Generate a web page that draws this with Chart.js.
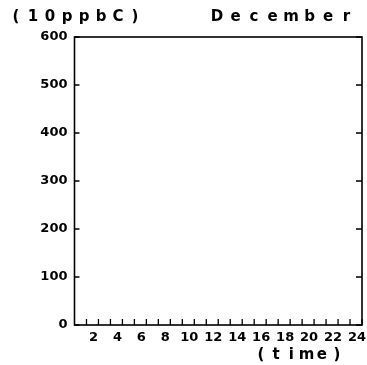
<!DOCTYPE html>
<html><head><meta charset="utf-8">
<script src="https://cdn.jsdelivr.net/npm/chart.js@4"></script>
<style>html,body{margin:0;padding:0;background:#fff}#wrap{width:367px;height:365px}</style>
</head><body><div id="wrap"><canvas id="c" width="367" height="365"></canvas></div>
<script>
// Data: the December panel contains no plotted values.
const hours = [1,2,3,4,5,6,7,8,9,10,11,12,13,14,15,16,17,18,19,20,21,22,23,24];
const concentration = [null,null,null,null,null,null,null,null,null,null,null,null,null,null,null,null,null,null,null,null,null,null,null,null];
const yTicks = [0,100,200,300,400,500,600];
const xLabelHours = [2,4,6,8,10,12,14,16,18,20,22,24];
const unitLabel = '(10ppbC)';
const monthLabel = 'December';
const xTitle = '(time)';

const FONT = 'bold 15px "DejaVu Sans"';

function spaced(ctx, text, x0, step, y){
  for(let i=0;i<text.length;i++) ctx.fillText(text[i], x0 + i*step, y);
}

const frame = {
  id:'frame',
  afterDraw(chart){
    const ctx = chart.ctx, a = chart.chartArea, xs = chart.scales.x, ys = chart.scales.y;
    ctx.save();
    ctx.strokeStyle = '#000';
    ctx.lineWidth = 1.6;
    ctx.strokeRect(a.left, a.top, a.right - a.left, a.bottom - a.top);
    ctx.lineWidth = 1.3;
    ctx.beginPath();
    yTicks.forEach(v => {
      const y = ys.getPixelForValue(v);
      ctx.moveTo(a.left, y); ctx.lineTo(a.left + 5, y);
      ctx.moveTo(a.right, y); ctx.lineTo(a.right - 6, y);
    });
    hours.forEach(h => {
      const x = xs.getPixelForValue(h);
      ctx.moveTo(x, a.bottom); ctx.lineTo(x, a.bottom - 6);
    });
    ctx.stroke();
    ctx.fillStyle = '#000';
    ctx.font = FONT;
    ctx.textAlign = 'center';
    ctx.textBaseline = 'middle';
    spaced(ctx, unitLabel, 16, 17, 17);
    spaced(ctx, monthLabel, 217, 18.5, 17);
    spaced(ctx, xTitle, 261, 15.2, 355);
    ctx.restore();
  }
};

new Chart(document.getElementById('c'), {
  type:'line',
  data:{ labels: hours, datasets:[{ data: hours.map((h,i)=>({x:h, y:concentration[i]})), borderColor:'#000', borderWidth:1.5, pointRadius:0, spanGaps:false }]},
  options:{
    responsive:false, animation:false, devicePixelRatio:1,
    layout:{ padding:{ left:0, top:37, right:5, bottom:0 } },
    plugins:{ legend:{display:false}, tooltip:{enabled:false} },
    scales:{
      x:{ type:'linear', min:0, max:24,
        afterFit(s){ s.height = 40; s.paddingLeft = 0; s.paddingRight = 0; },
        afterBuildTicks(s){ s.ticks = xLabelHours.map(v=>({value:v})); },
        grid:{ display:false, drawTicks:false }, border:{ display:false },
        ticks:{ color:'#000', font:{ family:'DejaVu Sans', size:13, weight:'bold' }, padding:5, maxRotation:0, autoSkip:false, labelOffset:-5 }
      },
      y:{ min:0, max:600,
        afterFit(s){ s.width = 74.5; s.paddingTop = 0; s.paddingBottom = 0; },
        afterBuildTicks(s){ s.ticks = yTicks.map(v=>({value:v})); },
        grid:{ display:false, drawTicks:false }, border:{ display:false },
        ticks:{ color:'#000', font:{ family:'DejaVu Sans', size:13, weight:'bold' }, padding:7 }
      }
    }
  },
  plugins:[frame]
});
</script></body></html>
